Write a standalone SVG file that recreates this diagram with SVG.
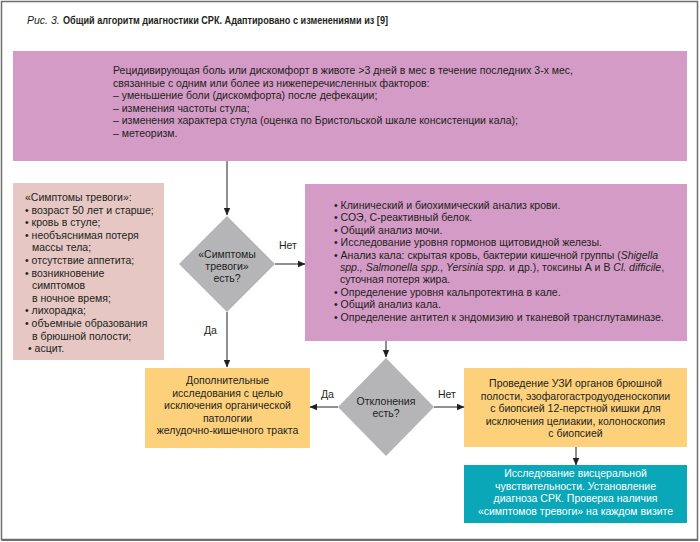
<svg xmlns="http://www.w3.org/2000/svg" width="700" height="542" viewBox="0 0 700 542">
<defs>
<marker id="ah" markerWidth="8" markerHeight="8" refX="7" refY="4" orient="auto" markerUnits="userSpaceOnUse">
<path d="M0,0.8 L7.5,4 L0,7.2 Z" fill="#231f20"/>
</marker>
<style>
text{font-family:"Liberation Sans",Arial,sans-serif;font-size:10.5px;fill:#231f20}
.c{text-anchor:middle}
.w{fill:#ffffff}
.conn line{stroke:#231f20;stroke-width:1;marker-end:url(#ah)}
.lbl{font-size:10.5px}
.pink{fill:#d49bc6}
.yel{fill:#fdd17c}
.dia{fill:#b5b5b7}
</style>
</defs>
<rect x="0" y="0" width="700" height="542" fill="#ffffff"/>
<rect x="1.5" y="1.5" width="696" height="538" fill="none" stroke="#6d6e70" stroke-width="1.5"/>
<line x1="1.5" y1="540" x2="698" y2="540" stroke="#6d6e70" stroke-width="2"/>

<g id="title">
<text x="27" y="24" font-size="11.5" font-style="italic">Рис. 3.</text>
<text x="63" y="24" font-size="11.5" font-weight="bold" textLength="325" lengthAdjust="spacingAndGlyphs">Общий алгоритм диагностики СРК. Адаптировано с изменениями из [9]</text>
</g>

<g id="criteria">
<rect class="pink" x="13" y="51" width="674" height="110"/>
<text x="113" y="74">Рецидивирующая боль или дискомфорт в животе &gt;3 дней в мес в течение последних 3-х мес,</text>
<text x="113" y="86.5">связанные с одним или более из нижеперечисленных факторов:</text>
<text x="113" y="99">– уменьшение боли (дискомфорта) после дефекации;</text>
<text x="113" y="111.5">– изменения частоты стула;</text>
<text x="113" y="124">– изменения характера стула (оценка по Бристольской шкале консистенции кала);</text>
<text x="113" y="136.5">– метеоризм.</text>
</g>

<g id="alarm">
<rect x="13" y="183" width="151" height="177" fill="#e6c7c4"/>
<text x="25" y="201">«Симптомы тревоги»:</text>
<text x="25" y="213.6">• возраст 50 лет и старше;</text>
<text x="25" y="226.2">• кровь в стуле;</text>
<text x="25" y="238.8">• необъяснимая потеря</text>
<text x="32" y="251.4">массы тела;</text>
<text x="25" y="264">• отсутствие аппетита;</text>
<text x="25" y="276.6">• возникновение</text>
<text x="32" y="289.2">симптомов</text>
<text x="32" y="301.8">в ночное время;</text>
<text x="25" y="314.4">• лихорадка;</text>
<text x="25" y="327">• объемные образования</text>
<text x="32" y="339.6">в брюшной полости;</text>
<text x="28" y="352.2">• асцит.</text>
</g>

<g id="decision1">
<polygon class="dia" points="227,216 275,264 227,312 179,264"/>
<text class="c" x="227" y="258">«Симптомы</text>
<text class="c" x="227" y="270">тревоги»</text>
<text class="c" x="227" y="282">есть?</text>
</g>

<g id="tests">
<rect class="pink" x="305" y="184" width="382" height="157"/>
<text x="334" y="209">• Клинический и биохимический анализ крови.</text>
<text x="334" y="221.4">• СОЭ, С-реактивный белок.</text>
<text x="334" y="233.8">• Общий анализ мочи.</text>
<text x="334" y="246.2">• Исследование уровня гормонов щитовидной железы.</text>
<text x="334" y="258.6">• Анализ кала: скрытая кровь, бактерии кишечной группы (<tspan font-style="italic">Shigella</tspan></text>
<text x="340" y="271"><tspan font-style="italic">spp., Salmonella spp., Yersinia spp.</tspan> и др.), токсины А и В <tspan font-style="italic">Cl. difficile</tspan>,</text>
<text x="340" y="283.4">суточная потеря жира.</text>
<text x="334" y="295.8">• Определение уровня кальпротектина в кале.</text>
<text x="334" y="308.2">• Общий анализ кала.</text>
<text x="334" y="320.6">• Определение антител к эндомизию и тканевой трансглутаминазе.</text>
</g>

<g id="extra">
<rect class="yel" x="145" y="368" width="165" height="80"/>
<text class="c" x="227.5" y="384">Дополнительные</text>
<text class="c" x="227.5" y="396.5">исследования с целью</text>
<text class="c" x="227.5" y="409">исключения органической</text>
<text class="c" x="227.5" y="421.5">патологии</text>
<text class="c" x="227.5" y="434">желудочно-кишечного тракта</text>
</g>

<g id="decision2">
<polygon class="dia" points="386,358 434,407 386,456 338,407"/>
<text class="c" x="386" y="405">Отклонения</text>
<text class="c" x="386" y="417">есть?</text>
</g>

<g id="endoscopy">
<rect class="yel" x="464" y="368" width="223" height="79"/>
<text class="c" x="575.5" y="387">Проведение УЗИ органов брюшной</text>
<text class="c" x="575.5" y="399.5">полости, эзофагогастродуоденоскопии</text>
<text class="c" x="575.5" y="412">с биопсией 12-перстной кишки для</text>
<text class="c" x="575.5" y="424.5">исключения целиакии, колоноскопия</text>
<text class="c" x="575.5" y="437">с биопсией</text>
</g>

<g id="final">
<rect x="464" y="465" width="223" height="58" fill="#0aa7b9"/>
<text class="c w" x="575.5" y="477">Исследование висцеральной</text>
<text class="c w" x="575.5" y="489.5">чувствительности. Установление</text>
<text class="c w" x="575.5" y="502">диагноза СРК. Проверка наличия</text>
<text class="c w" x="575.5" y="514.5">«симптомов тревоги» на каждом визите</text>
</g>

<g id="connectors" class="conn">
<line x1="227" y1="161" x2="227" y2="215"/>
<line x1="275" y1="264" x2="305" y2="264"/>
<line x1="227" y1="312" x2="227" y2="367"/>
<line x1="386" y1="341" x2="386" y2="357"/>
<line x1="338" y1="407" x2="310" y2="407"/>
<line x1="434" y1="407" x2="464" y2="407"/>
<line x1="576" y1="447" x2="576" y2="465"/>
<text class="lbl" x="279" y="249">Нет</text>
<text class="lbl" x="204" y="334">Да</text>
<text class="lbl" x="321" y="398">Да</text>
<text class="lbl" x="438" y="398">Нет</text>
</g>
</svg>
